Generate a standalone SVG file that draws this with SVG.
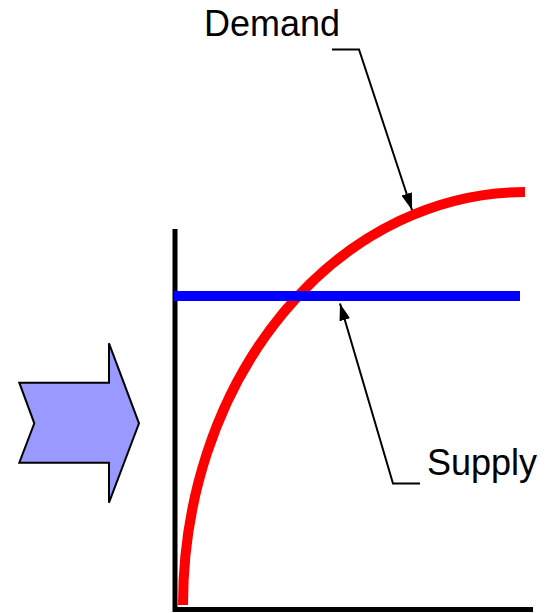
<svg xmlns="http://www.w3.org/2000/svg" width="550" height="613" viewBox="0 0 550 613">
<defs>
<style>
.lbl{font-family:"Liberation Sans",Arial,sans-serif;font-size:36px;fill:#000}
.lead{fill:none;stroke:#000;stroke-width:2}
</style>
<marker id="ah" markerWidth="18" markerHeight="12" refX="17" refY="5.5" orient="auto" markerUnits="userSpaceOnUse">
<path d="M0,0 L17,5.5 L0,11 Z" fill="#000"/>
</marker>
</defs>
<g id="arrow-shape">
<polygon points="19.3,382.7 109,382.7 109,343.3 139,423.3 109,502.7 109,462.7 19.3,462.7 34.3,423.3" fill="#9999ff" stroke="#000" stroke-width="2"/>
</g>
<g id="axes">
<line x1="175" y1="229" x2="175" y2="612" stroke="#000" stroke-width="5"/>
<line x1="173" y1="609.5" x2="533" y2="609.5" stroke="#000" stroke-width="5"/>
</g>
<g id="demand-curve">
<path d="M183,605 A342,413 0 0 1 525,192" fill="none" stroke="#ff0000" stroke-width="10"/>
</g>
<g id="supply-line">
<line x1="174" y1="296" x2="520" y2="296" stroke="#0000ff" stroke-width="10"/>
</g>
<g id="connectors">
<path class="lead" d="M332,49.5 L359,49.5 L412,210" marker-end="url(#ah)"/>
<path class="lead" d="M420,483.5 L393,483.5 L340,303.5" marker-end="url(#ah)"/>
</g>
<g id="demand-label"><text class="lbl" x="204" y="36">Demand</text></g>
<g id="supply-label"><text class="lbl" x="427" y="475">Supply</text></g>
</svg>
